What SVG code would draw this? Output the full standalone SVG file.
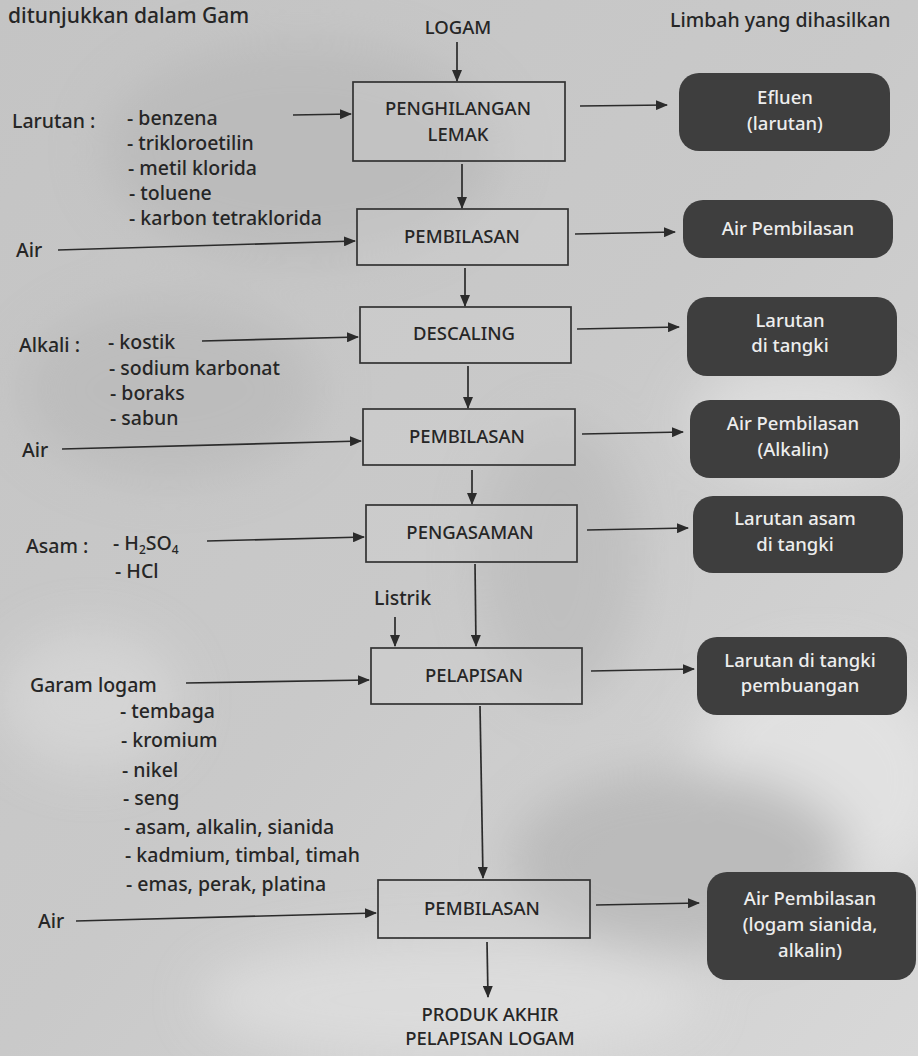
<svg xmlns="http://www.w3.org/2000/svg" width="918" height="1056" viewBox="0 0 918 1056">
<defs>
<style>
.t{font-family:"Noto Sans","Open Sans","DejaVu Sans",sans-serif;font-size:19.5px;font-weight:500;fill:#262626}
.b{font-size:18.5px}
.c{text-anchor:middle}
.w{font-family:"Noto Sans","Open Sans","DejaVu Sans",sans-serif;font-size:18.5px;font-weight:500;fill:#ededed;text-anchor:middle}
.box{fill:#d2d2d2;fill-opacity:0.35;stroke:#333;stroke-width:1.7}
.dk{fill:#3e3e3e}
.ln{stroke:#2b2b2b;stroke-width:1.7;fill:none;marker-end:url(#ah)}
</style>
<marker id="ah" markerWidth="12" markerHeight="10" refX="11" refY="5" orient="auto" markerUnits="userSpaceOnUse">
<path d="M0,0 L12,5 L0,10 Z" fill="#2b2b2b"/>
</marker>
<filter id="bl" x="-50%" y="-50%" width="200%" height="200%"><feGaussianBlur stdDeviation="25"/></filter>
<linearGradient id="bg" x1="0" y1="0" x2="1" y2="1">
<stop offset="0" stop-color="#c4c4c4"/>
<stop offset="0.5" stop-color="#c9c9c9"/>
<stop offset="1" stop-color="#d8d8d8"/>
</linearGradient>
</defs>
<g id="background">
<rect width="918" height="1056" fill="url(#bg)"/>
<g filter="url(#bl)" opacity="0.75">
<ellipse cx="300" cy="150" rx="200" ry="110" fill="#b8b8b8"/>
<ellipse cx="170" cy="390" rx="150" ry="90" fill="#b9b9b9"/>
<ellipse cx="800" cy="420" rx="110" ry="60" fill="#e2e2e2"/>
<ellipse cx="820" cy="780" rx="130" ry="120" fill="#e6e6e6"/>
<ellipse cx="450" cy="1000" rx="250" ry="60" fill="#e0e0e0"/>
<ellipse cx="680" cy="860" rx="170" ry="90" fill="#b4b4b4"/>
<ellipse cx="560" cy="560" rx="80" ry="140" fill="#bbbbbb"/>
<ellipse cx="90" cy="700" rx="90" ry="70" fill="#d8d8d8"/>
</g>
</g>
<text class="t" x="8" y="23" style="font-size:21px">ditunjukkan dalam Gam</text>
<g id="header">
<text class="t b c" x="458" y="34">LOGAM</text>
<text class="t" x="670" y="27">Limbah yang dihasilkan</text>
</g>
<g id="inputs">
<text class="t" x="12" y="128">Larutan :</text>
<text class="t" x="127" y="125">- benzena</text>
<text class="t" x="127" y="150">- trikloroetilin</text>
<text class="t" x="128" y="175">- metil klorida</text>
<text class="t" x="129" y="200">- toluene</text>
<text class="t" x="129" y="225">- karbon tetraklorida</text>
<text class="t" x="16" y="257">Air</text>
<text class="t" x="19" y="352">Alkali :</text>
<text class="t" x="108" y="349">- kostik</text>
<text class="t" x="109" y="375">- sodium karbonat</text>
<text class="t" x="110" y="400">- boraks</text>
<text class="t" x="110" y="425">- sabun</text>
<text class="t" x="22" y="457">Air</text>
<text class="t" x="26" y="553">Asam :</text>
<text class="t" x="113" y="550">- H<tspan dy="4" font-size="12">2</tspan><tspan dy="-4">SO</tspan><tspan dy="4" font-size="12">4</tspan></text>
<text class="t" x="115" y="578">- HCl</text>
<text class="t" x="374" y="605">Listrik</text>
<text class="t" x="30" y="692">Garam logam</text>
<text class="t" x="120" y="718">- tembaga</text>
<text class="t" x="121" y="747">- kromium</text>
<text class="t" x="122" y="777">- nikel</text>
<text class="t" x="123" y="805">- seng</text>
<text class="t" x="124" y="834">- asam, alkalin, sianida</text>
<text class="t" x="125" y="862">- kadmium, timbal, timah</text>
<text class="t" x="126" y="891">- emas, perak, platina</text>
<text class="t" x="38" y="928">Air</text>
</g>
<g id="node-penghilangan">
<rect class="box" x="353" y="82" width="212" height="79"/>
<text class="t b c" x="458" y="115">PENGHILANGAN</text>
<text class="t b c" x="458" y="141">LEMAK</text>
</g>
<g id="node-pembilasan1">
<rect class="box" x="357" y="209" width="211" height="56"/>
<text class="t b c" x="462" y="243">PEMBILASAN</text>
</g>
<g id="node-descaling">
<rect class="box" x="360" y="307" width="211" height="56"/>
<text class="t b c" x="464" y="340">DESCALING</text>
</g>
<g id="node-pembilasan2">
<rect class="box" x="363" y="409" width="212" height="56"/>
<text class="t b c" x="467" y="443">PEMBILASAN</text>
</g>
<g id="node-pengasaman">
<rect class="box" x="366" y="505" width="211" height="57"/>
<text class="t b c" x="470" y="539">PENGASAMAN</text>
</g>
<g id="node-pelapisan">
<rect class="box" x="371" y="648" width="211" height="56"/>
<text class="t b c" x="474" y="682">PELAPISAN</text>
</g>
<g id="node-pembilasan3">
<rect class="box" x="378" y="880" width="212" height="58"/>
<text class="t b c" x="482" y="915">PEMBILASAN</text>
</g>
<g id="node-produk">
<text class="t b c" x="490" y="1021">PRODUK AKHIR</text>
<text class="t b c" x="490" y="1045">PELAPISAN LOGAM</text>
</g>
<g id="waste-efluen">
<rect class="dk" x="679" y="73" width="211" height="78" rx="20"/>
<text class="w" x="785" y="104">Efluen</text>
<text class="w" x="785" y="130">(larutan)</text>
</g>
<g id="waste-air1">
<rect class="dk" x="683" y="200" width="210" height="58" rx="20"/>
<text class="w" x="788" y="235">Air Pembilasan</text>
</g>
<g id="waste-larutan">
<rect class="dk" x="687" y="297" width="210" height="79" rx="20"/>
<text class="w" x="790" y="327">Larutan</text>
<text class="w" x="790" y="352">di tangki</text>
</g>
<g id="waste-air2">
<rect class="dk" x="690" y="400" width="210" height="78" rx="20"/>
<text class="w" x="793" y="430">Air Pembilasan</text>
<text class="w" x="793" y="456">(Alkalin)</text>
</g>
<g id="waste-asam">
<rect class="dk" x="693" y="496" width="210" height="77" rx="20"/>
<text class="w" x="795" y="525">Larutan asam</text>
<text class="w" x="795" y="551">di tangki</text>
</g>
<g id="waste-pembuangan">
<rect class="dk" x="697" y="637" width="210" height="78" rx="20"/>
<text class="w" x="800" y="667">Larutan di tangki</text>
<text class="w" x="800" y="692">pembuangan</text>
</g>
<g id="waste-air3">
<rect class="dk" x="707" y="872" width="209" height="108" rx="20"/>
<text class="w" x="810" y="905">Air Pembilasan</text>
<text class="w" x="810" y="931">(logam sianida,</text>
<text class="w" x="810" y="957">alkalin)</text>
</g>
<g id="connectors">
<line class="ln" x1="457" y1="42" x2="457" y2="81"/>
<line class="ln" x1="462" y1="164" x2="462" y2="208"/>
<line class="ln" x1="465" y1="268" x2="465" y2="306"/>
<line class="ln" x1="468" y1="366" x2="468" y2="408"/>
<line class="ln" x1="472" y1="470" x2="472" y2="504"/>
<line class="ln" x1="475" y1="564" x2="476" y2="646"/>
<line class="ln" x1="395" y1="617" x2="395" y2="646"/>
<line class="ln" x1="480" y1="706" x2="483" y2="878"/>
<line class="ln" x1="487" y1="942" x2="488" y2="997"/>
<line class="ln" x1="293" y1="115" x2="351" y2="114"/>
<line class="ln" x1="58" y1="250" x2="355" y2="241"/>
<line class="ln" x1="202" y1="341" x2="358" y2="337"/>
<line class="ln" x1="62" y1="449" x2="361" y2="441"/>
<line class="ln" x1="207" y1="541" x2="364" y2="537"/>
<line class="ln" x1="186" y1="683" x2="369" y2="680"/>
<line class="ln" x1="76" y1="921" x2="376" y2="913"/>
<line class="ln" x1="580" y1="106" x2="667" y2="105"/>
<line class="ln" x1="575" y1="234" x2="675" y2="232"/>
<line class="ln" x1="577" y1="329" x2="679" y2="327"/>
<line class="ln" x1="582" y1="434" x2="683" y2="432"/>
<line class="ln" x1="587" y1="530" x2="688" y2="528"/>
<line class="ln" x1="591" y1="671" x2="694" y2="669"/>
<line class="ln" x1="596" y1="905" x2="699" y2="903"/>
</g>
</svg>
